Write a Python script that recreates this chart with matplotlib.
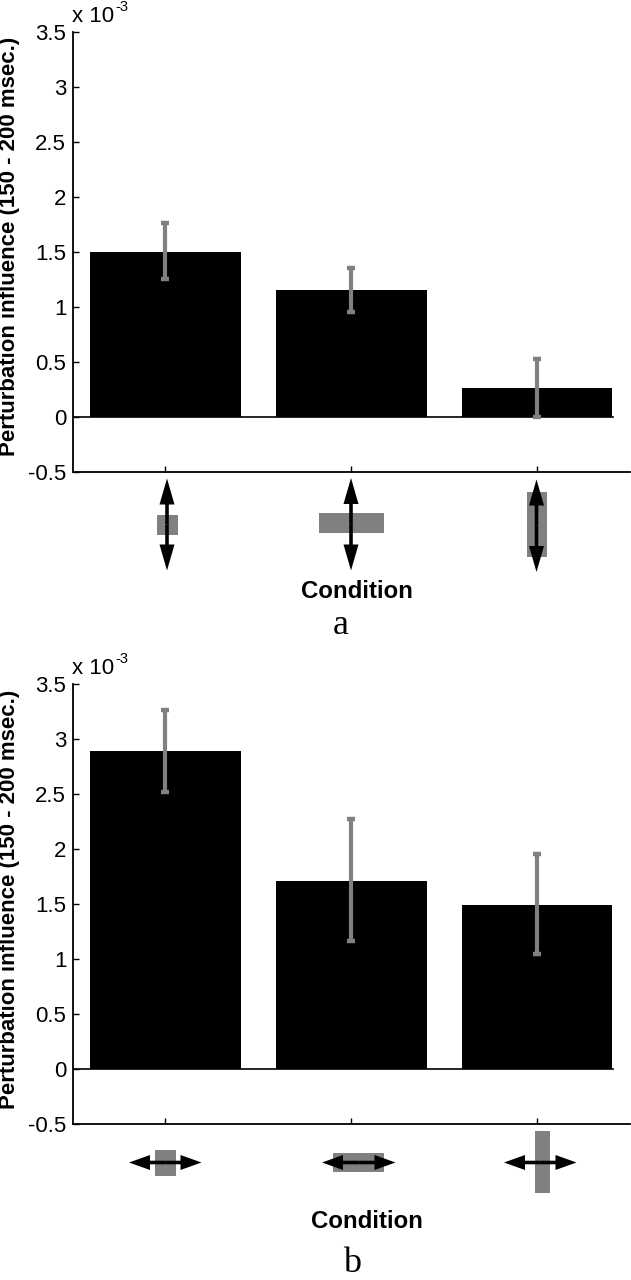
import matplotlib
matplotlib.use('Agg')
import matplotlib.pyplot as plt
from matplotlib.patches import Rectangle, FancyArrow

# values (units of 1e-3)
conditions = [1, 2, 3]
yticks = [-0.5, 0, 0.5, 1, 1.5, 2, 2.5, 3, 3.5]
ytick_labels = ['-0.5', '0', '0.5', '1', '1.5', '2', '2.5', '3', '3.5']

means_a = [1.5, 1.15, 0.26]
err_low_a = [1.25, 0.95, 0.0]
err_high_a = [1.76, 1.35, 0.52]

means_b = [2.89, 1.71, 1.49]
err_low_b = [2.52, 1.16, 1.04]
err_high_b = [3.26, 2.27, 1.95]

W, H = 631, 1280
GRAY = '#808080'
SANS = 'Liberation Sans'
SERIF = 'Liberation Serif'

fig = plt.figure(figsize=(W / 100, H / 100), dpi=100)


def make_axes(top, bottom, means, low, high):
    ax = fig.add_axes([72.5 / W, 1 - bottom / H, (630 - 72.5) / W, (bottom - top) / H])
    ax.bar(conditions, means, width=0.81, color='black')
    ax.axhline(0, xmin=0, xmax=0.97, color='black', lw=1.2)
    yerr = [[m - l for m, l in zip(means, low)], [h - m for m, h in zip(means, high)]]
    ax.errorbar(conditions, means, yerr=yerr, fmt='none', ecolor=GRAY,
                elinewidth=3, capsize=2.8, capthick=3.2)
    ax.set_xlim(0.5, 3.5)
    ax.set_ylim(-0.5, 3.5)
    ax.set_xticks(conditions)
    ax.set_xticklabels([])
    ax.set_yticks(yticks)
    ax.set_yticklabels(ytick_labels, fontname=SANS, fontsize=16)
    ax.tick_params(direction='in', length=4.5, width=1, pad=4.5)
    ax.spines['top'].set_visible(False)
    ax.spines['right'].set_visible(False)
    for s in ['left', 'bottom']:
        ax.spines[s].set_linewidth(1.3)
    return ax


make_axes(32, 471.5, means_a, err_low_a, err_high_a)
make_axes(684, 1123.5, means_b, err_low_b, err_high_b)

# overlay in pixel coordinates for the stimulus icons and the free text
ov = fig.add_axes([0, 0, 1, 1], facecolor='none')
ov.set_xlim(0, W)
ov.set_ylim(H, 0)
ov.axis('off')


def icon_rect(x0, x1, y0, y1):
    ov.add_patch(Rectangle((x0, y0), x1 - x0, y1 - y0, color=GRAY, lw=0))


def double_arrow(x0, y0, x1, y1, head_len):
    cx, cy = (x0 + x1) / 2, (y0 + y1) / 2
    for ex, ey in [(x0, y0), (x1, y1)]:
        ov.add_patch(FancyArrow(cx, cy, ex - cx, ey - cy, width=3.6, head_width=15,
                                head_length=head_len, length_includes_head=True,
                                color='black', lw=0))


# panel a, vertical arrows
icon_rect(157, 177.5, 514.5, 534.5)
double_arrow(167, 478.5, 167, 570.5, 26)
icon_rect(318.5, 383.5, 513, 532.5)
double_arrow(351, 478, 351, 570.5, 26)
icon_rect(527, 546.5, 492, 556.5)
double_arrow(536.5, 479.5, 536.5, 572, 26)

# panel b, horizontal arrows
icon_rect(154.5, 175.5, 1149.5, 1175.5)
double_arrow(129, 1162.5, 201.5, 1162.5, 21)
icon_rect(332.5, 383.5, 1153, 1172)
double_arrow(322, 1162.5, 395.5, 1162.5, 21)
icon_rect(534.5, 549.5, 1131, 1192.5)
double_arrow(504, 1162.5, 576.5, 1162.5, 21)

ylabel = 'Perturbation influence (150 - 200 msec.)'
for yc, y10, xc, yc2, letter, lx, ly in [(246, 17, 356.5, 591, 'a', 341, 625),
                                         (899, 669, 366.5, 1221, 'b', 352, 1263)]:
    ov.text(10, yc, ylabel, rotation=90, ha='center', va='center',
            fontname=SANS, fontweight='bold', fontsize=16)
    ov.text(72, y10, 'x 10', ha='left', va='center', fontname=SANS, fontsize=16)
    ov.text(115, y10 - 10, '-3', ha='left', va='center', fontname=SANS, fontsize=10.5)
    ov.text(xc, yc2, 'Condition', ha='center', va='center',
            fontname=SANS, fontweight='bold', fontsize=17.3)
    ov.text(lx, ly, letter, ha='center', va='center', fontname=SERIF, fontsize=26)

fig.savefig('out.png', dpi=100)
